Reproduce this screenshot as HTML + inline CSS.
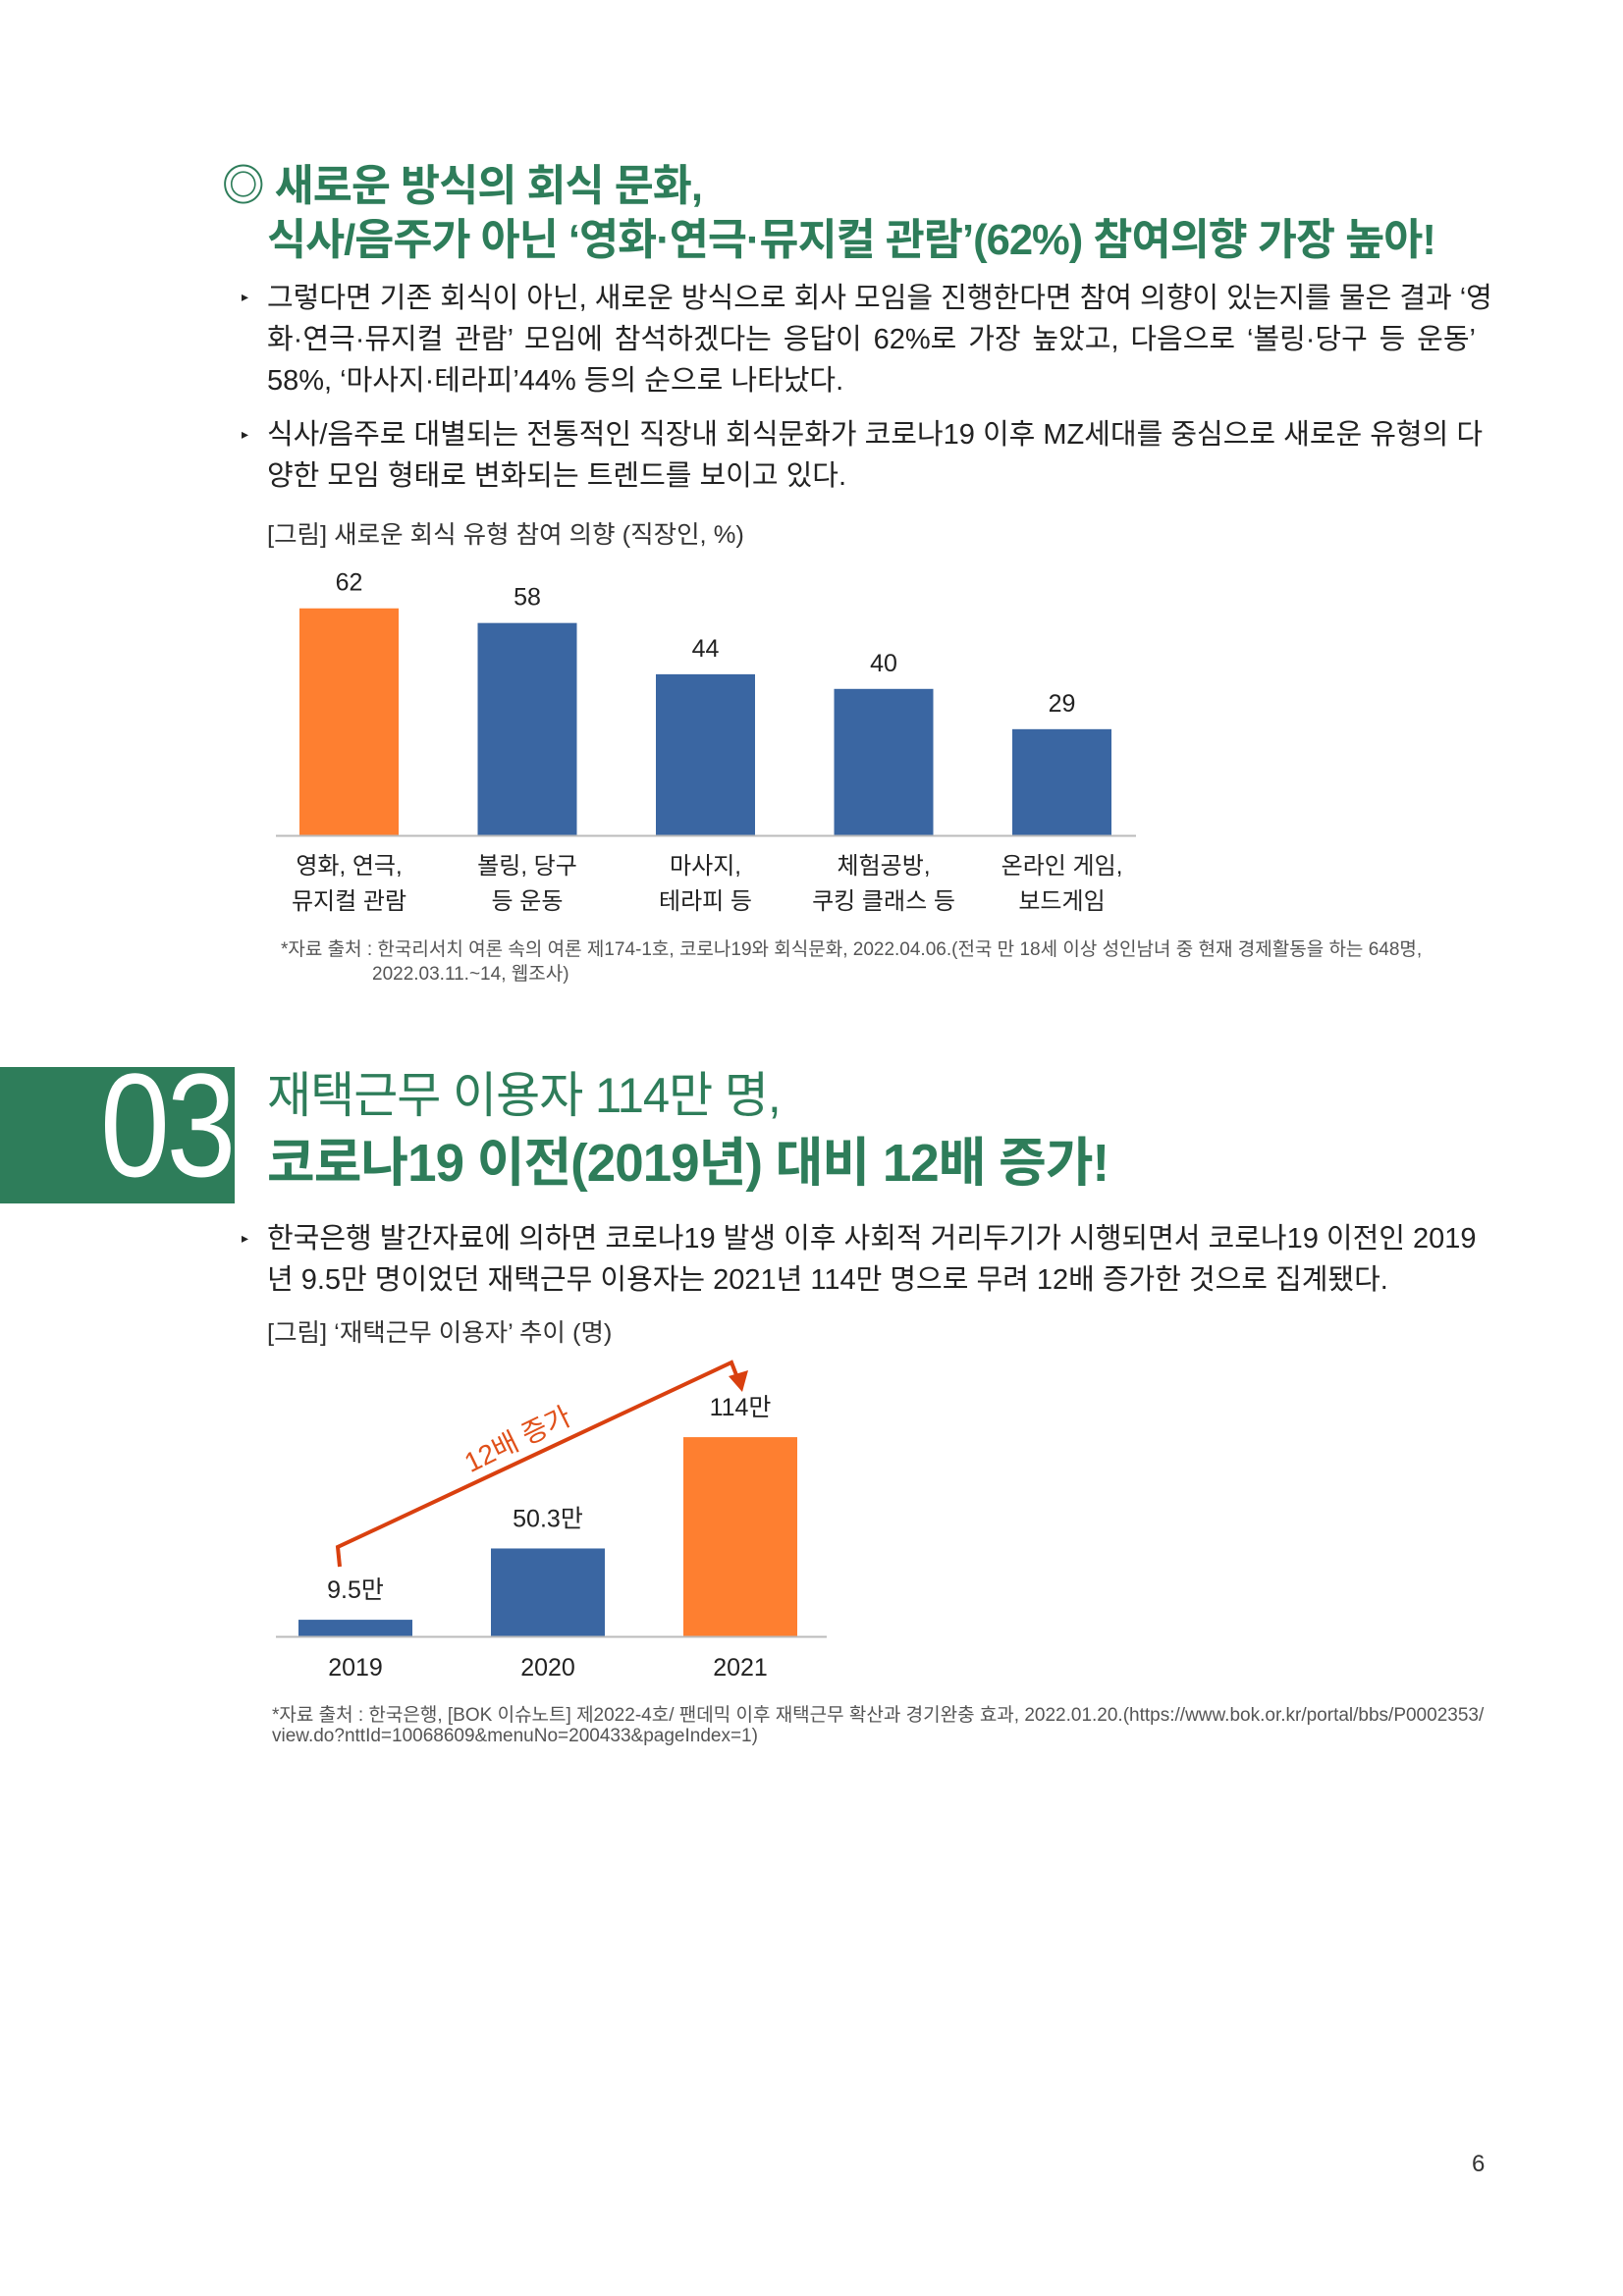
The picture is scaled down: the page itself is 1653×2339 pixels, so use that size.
<!DOCTYPE html>
<html><head><meta charset="utf-8">
<style>
html,body{margin:0;padding:0;background:#fff}
#page{position:relative;width:1653px;height:2339px;overflow:hidden;font-family:"Liberation Sans","Noto Sans CJK KR",sans-serif;color:#222}
.abs{position:absolute;white-space:nowrap}
.t1{font-size:44px;font-weight:bold;color:#2e7d5a;letter-spacing:-1px;transform:scaleX(0.99);transform-origin:0 0}
.ln{font-size:29px;letter-spacing:0px;transform:scaleX(1.0);transform-origin:0 0;line-height:34px}
.j{width:1231px;text-align:justify;text-align-last:justify}
.bul{font-size:14px}
.cap{font-size:25px;letter-spacing:0px;transform:scaleX(1.02);transform-origin:0 0;color:#333}
.src{font-size:19px;letter-spacing:0px;transform:scaleX(1.0);transform-origin:0 0;color:#555}
svg text{font-family:"Liberation Sans","Noto Sans CJK KR",sans-serif}
</style></head><body>
<div id="page">
<div class="abs t1" style="left:226px;top:153px">◎ 새로운 방식의 회식 문화,</div>
<div class="abs t1" style="left:272px;top:208px">식사/음주가 아닌 ‘영화·연극·뮤지컬 관람’(62%) 참여의향 가장 높아!</div>

<div class="abs bul" style="left:246px;top:294px">▸</div>
<div class="abs ln j" style="left:272px;top:287px">그렇다면 기존 회식이 아닌, 새로운 방식으로 회사 모임을 진행한다면 참여 의향이 있는지를 물은 결과 ‘영</div>
<div class="abs ln j" style="left:272px;top:329px">화·연극·뮤지컬 관람’ 모임에 참석하겠다는 응답이 62%로 가장 높았고, 다음으로 ‘볼링·당구 등 운동’</div>
<div class="abs ln" style="left:272px;top:371px">58%, ‘마사지·테라피’44% 등의 순으로 나타났다.</div>
<div class="abs bul" style="left:246px;top:434px">▸</div>
<div class="abs ln j" style="left:272px;top:426px">식사/음주로 대별되는 전통적인 직장내 회식문화가 코로나19 이후 MZ세대를 중심으로 새로운 유형의 다</div>
<div class="abs ln" style="left:272px;top:468px">양한 모임 형태로 변화되는 트렌드를 보이고 있다.</div>
<div class="abs cap" style="left:272px;top:525px">[그림] 새로운 회식 유형 참여 의향 (직장인, %)</div>
<div class="abs src" style="left:286px;top:952px">*자료 출처 : 한국리서치 여론 속의 여론 제174-1호, 코로나19와 회식문화, 2022.04.06.(전국 만 18세 이상 성인남녀 중 현재 경제활동을 하는 648명,</div>
<div class="abs src" style="left:379px;top:977px">2022.03.11.~14, 웹조사)</div>

<div class="abs" style="left:0;top:1087px;width:239px;height:139px;background:#2e7d5a"></div>
<div class="abs" style="left:102px;top:1060px;font-size:150px;color:#fff;letter-spacing:-4px;transform:scaleX(0.85);transform-origin:0 0">03</div>
<div class="abs" style="left:272px;top:1076px;font-size:50px;color:#2e7d5a;letter-spacing:-1px;transform:scaleX(0.98);transform-origin:0 0">재택근무 이용자 114만 명,</div>
<div class="abs" style="left:272px;top:1140px;font-size:54px;font-weight:bold;color:#2e7d5a;letter-spacing:-1px;transform:scaleX(0.98);transform-origin:0 0">코로나19 이전(2019년) 대비 12배 증가!</div>
<div class="abs bul" style="left:246px;top:1253px">▸</div>
<div class="abs ln j" style="left:272px;top:1245px">한국은행 발간자료에 의하면 코로나19 발생 이후 사회적 거리두기가 시행되면서 코로나19 이전인 2019</div>
<div class="abs ln" style="left:272px;top:1287px">년 9.5만 명이었던 재택근무 이용자는 2021년 114만 명으로 무려 12배 증가한 것으로 집계됐다.</div>
<div class="abs cap" style="left:272px;top:1338px">[그림] ‘재택근무 이용자’ 추이 (명)</div>
<div class="abs src" style="left:277px;top:1732px">*자료 출처 : 한국은행, [BOK 이슈노트] 제2022-4호/ 팬데믹 이후 재택근무 확산과 경기완충 효과, 2022.01.20.(https://www.bok.or.kr/portal/bbs/P0002353/</div>
<div class="abs src" style="left:277px;top:1758px">view.do?nttId=10068609&amp;menuNo=200433&amp;pageIndex=1)</div>
<div class="abs" style="left:1499px;top:2191px;font-size:24px;color:#333">6</div>

<svg id="charts" width="1653" height="2339" style="position:absolute;left:0;top:0"></svg>
</div>
<script>
const cats1 = [["영화, 연극,","뮤지컬 관람"],["볼링, 당구","등 운동"],["마사지,","테라피 등"],["체험공방,","쿠킹 클래스 등"],["온라인 게임,","보드게임"]];
const vals1 = [62, 58, 44, 40, 29];
const labels1 = ["62","58","44","40","29"];
const cats2 = ["2019","2020","2021"];
const vals2 = [9.5, 50.3, 114];
const labels2 = ["9.5만","50.3만","114만"];

const NS="http://www.w3.org/2000/svg";
const svg=document.getElementById('charts');
function mk(tag,attrs,txt){const e=document.createElementNS(NS,tag);for(const k in attrs)e.setAttribute(k,attrs[k]);if(txt!==undefined)e.textContent=txt;svg.appendChild(e);return e;}

// chart 1
const b1={x0:281,x1:1157,base:851,scale:3.73,bw:101,step:181.5,first:305};
const y1=v=>b1.base-v*b1.scale;
const x1=i=>b1.first+i*b1.step;
vals1.forEach((v,i)=>{
  const r=mk('rect',{x:x1(i),y:y1(v),width:b1.bw,height:v*b1.scale,fill:i===0?'#fe7f30':'#3a66a2'});
  
  
  const t=mk('text',{x:x1(i)+b1.bw/2,y:y1(v)-18,'text-anchor':'middle','font-size':25,fill:'#222'},labels1[i]);
  
  
  cats1[i].forEach((s,k)=>{
    const c=mk('text',{x:x1(i)+b1.bw/2,y:890+k*36,'text-anchor':'middle','font-size':24,fill:'#222'},s);
    
    
  });
});
const a1=mk('line',{x1:b1.x0,x2:b1.x1,y1:b1.base+0.5,y2:b1.base+0.5,stroke:'#bbb','stroke-width':2});



// chart 2
const b2={x0:281,x1:842,base:1667,scale:1.78,bw:116,first:304,step:196};
const y2=v=>b2.base-v*b2.scale;
const x2=i=>b2.first+i*b2.step;
vals2.forEach((v,i)=>{
  const r=mk('rect',{x:x2(i),y:y2(v),width:b2.bw,height:v*b2.scale,fill:i===2?'#fe7f30':'#3a66a2'});
  
  
  const t=mk('text',{x:x2(i)+b2.bw/2,y:y2(v)-22,'text-anchor':'middle','font-size':25,fill:'#222'},labels2[i]);
  
  
  const c=mk('text',{x:x2(i)+b2.bw/2,y:1707,'text-anchor':'middle','font-size':25,fill:'#222'},cats2[i]);
  
  
});
const a2=mk('line',{x1:b2.x0,x2:b2.x1,y1:b2.base+0.5,y2:b2.base+0.5,stroke:'#bbb','stroke-width':2});


// growth arrow
const ar=mk('polyline',{points:'346,1596 344,1576 745,1388 752,1406',fill:'none',stroke:'#d9400f','stroke-width':4});


const ah=mk('polygon',{points:'742,1402 762,1396 756,1418',fill:'#d9400f'});


const gt=mk('text',{x:527,y:1476,'text-anchor':'middle','font-size':28,fill:'#e0501a',transform:'rotate(-26 527 1466)'},'12배 증가');


</script>
</body></html>
